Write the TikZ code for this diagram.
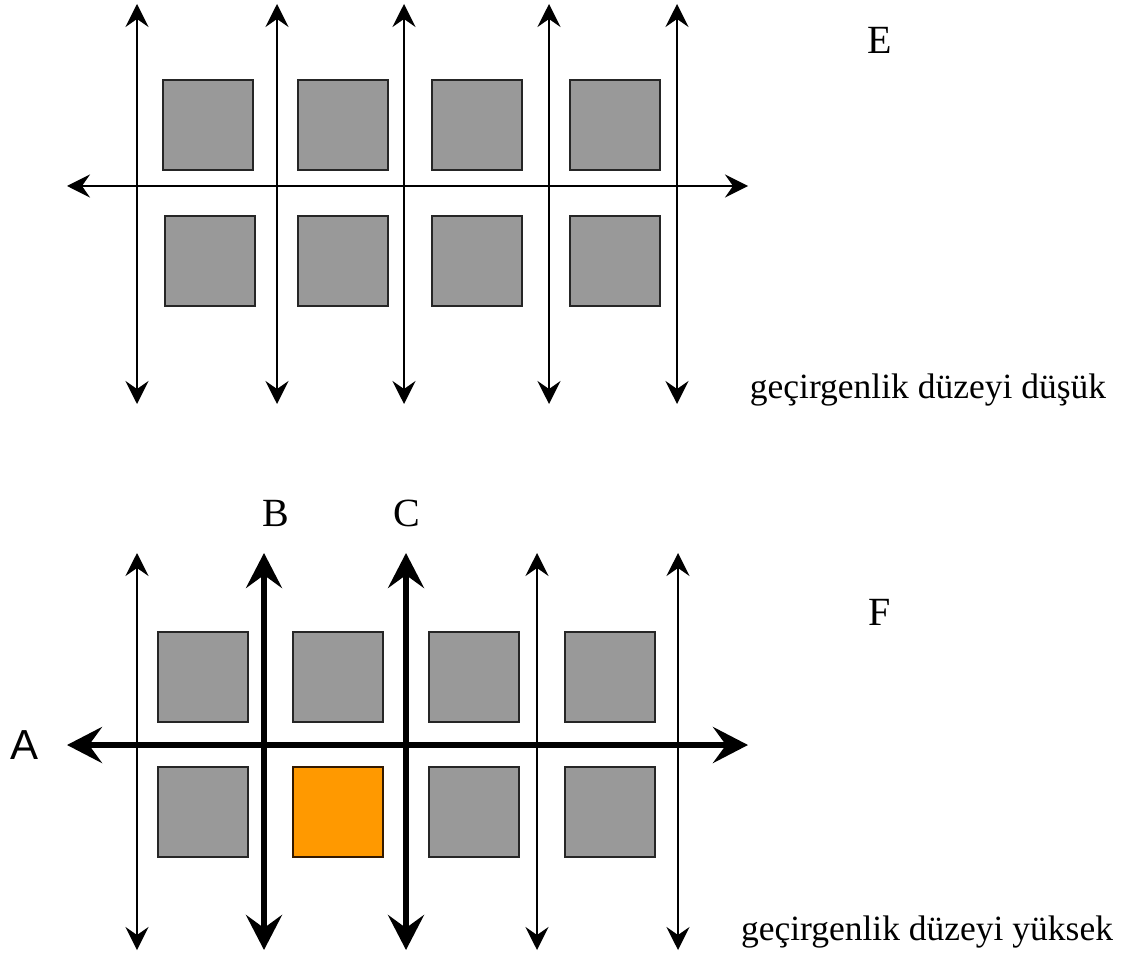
\documentclass[tikz,border=0pt]{standalone}
\usepackage{fontspec}
\setmainfont{Liberation Serif}
\newfontfamily\labelsans{Liberation Sans}
\usepackage{tikz}
\usetikzlibrary{arrows.meta}
\definecolor{cellgray}{RGB}{153,153,153}
\definecolor{cellorange}{RGB}{255,153,0}

\begin{document}
\begin{tikzpicture}[
        x=1pt, y=-1pt,
        cell/.style={draw=black!85, line width=1.6pt, fill=cellgray, inner sep=0pt, minimum size=90pt},
        hot/.style={cell, draw=black!80!orange, fill=cellorange},
        road/.style={{Stealth[length=23pt, width=23pt, inset=8pt]}-{Stealth[length=23pt, width=23pt, inset=8pt]}, line width=1.7pt},
        mainroad/.style={{Stealth[length=35pt, width=36pt, inset=13pt]}-{Stealth[length=35pt, width=36pt, inset=13pt]}, line width=5.5pt},
        tag/.style={font=\fontsize{40}{44}\selectfont, inner sep=0pt},
        note/.style={font=\fontsize{35.5}{40}\selectfont, inner sep=0pt, anchor=base}
    ]
    \useasboundingbox (0,0) rectangle (1126,957);

    % ====== Panel E: low permeability ======
    \node[cell] (e1) at (208,125) {};
    \node[cell] (e2) at (343,125) {};
    \node[cell] (e3) at (477,125) {};
    \node[cell] (e4) at (615,125) {};
    \node[cell] (e5) at (210,261) {};
    \node[cell] (e6) at (343,261) {};
    \node[cell] (e7) at (477,261) {};
    \node[cell] (e8) at (615,261) {};

    \coordinate (ew) at (67,186);   \coordinate (ee) at (748,186);
    \coordinate (ea1) at (137,4);   \coordinate (eb1) at (137,404);
    \coordinate (ea2) at (277,4);   \coordinate (eb2) at (277,404);
    \coordinate (ea3) at (404,4);   \coordinate (eb3) at (404,404);
    \coordinate (ea4) at (549,4);   \coordinate (eb4) at (549,404);
    \coordinate (ea5) at (677,4);   \coordinate (eb5) at (677,404);

    \draw[road] (ew) -- (ee);
    \draw[road] (ea1) -- (eb1);
    \draw[road] (ea2) -- (eb2);
    \draw[road] (ea3) -- (eb3);
    \draw[road] (ea4) -- (eb4);
    \draw[road] (ea5) -- (eb5);

    \node[tag] (lblE) at (880,40) {E};
    \node[note] (lowtxt) at (928,398) {geçirgenlik düzeyi düşük};

    % ====== Panel F: high permeability ======
    \node[cell] (f1) at (203,677) {};
    \node[cell] (f2) at (338,677) {};
    \node[cell] (f3) at (474,677) {};
    \node[cell] (f4) at (610,677) {};
    \node[cell] (f5) at (203,812) {};
    \node[hot]  (f6) at (338,812) {};
    \node[cell] (f7) at (474,812) {};
    \node[cell] (f8) at (610,812) {};

    \coordinate (fw) at (67,745);   \coordinate (fe) at (748,745);
    \coordinate (fa1) at (137,553); \coordinate (fb1) at (137,950);
    \coordinate (fa2) at (264,553); \coordinate (fb2) at (264,950);
    \coordinate (fa3) at (406,553); \coordinate (fb3) at (406,950);
    \coordinate (fa4) at (537,553); \coordinate (fb4) at (537,950);
    \coordinate (fa5) at (678,553); \coordinate (fb5) at (678,950);

    \draw[road] (fa1) -- (fb1);
    \draw[road] (fa4) -- (fb4);
    \draw[road] (fa5) -- (fb5);
    \draw[mainroad] (fw) -- (fe);
    \draw[mainroad] (fa2) -- (fb2);
    \draw[mainroad] (fa3) -- (fb3);

    \node[tag, font=\labelsans\fontsize{42}{46}\selectfont] (lblA) at (25,745) {A};
    \node[tag] (lblB) at (276,513) {B};
    \node[tag] (lblC) at (407,513) {C};
    \node[tag] (lblF) at (880,612) {F};
    \node[note] (hightxt) at (927,940) {geçirgenlik düzeyi yüksek};
\end{tikzpicture}
\end{document}
